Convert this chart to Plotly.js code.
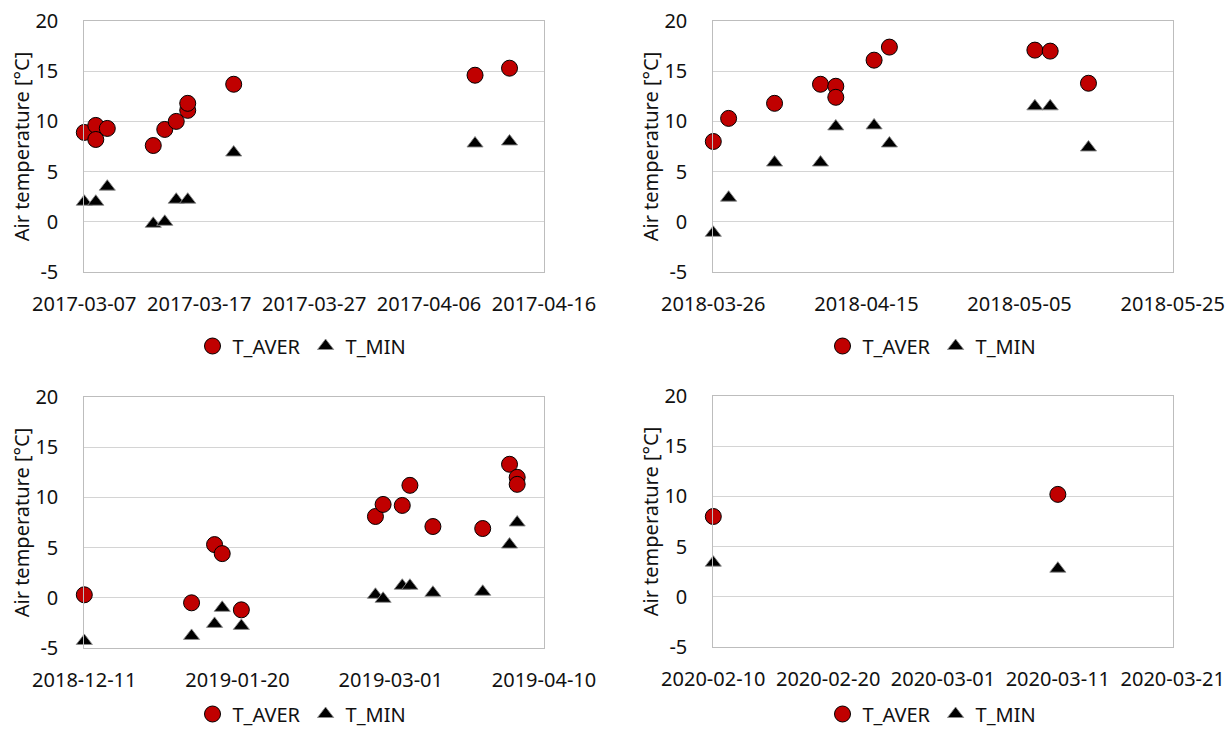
<!DOCTYPE html>
<html>
<head>
<meta charset="utf-8">
<script src="https://cdn.plot.ly/plotly-3.0.1.min.js"></script>
<style>html,body{margin:0;padding:0;background:#fff;}#chart{width:1227px;height:730px;}</style>
</head>
<body>
<div id="chart"></div>
<script>
// ---- Data ----
const seriesNames = ['T_AVER', 'T_MIN'];
const yTitle = 'Air temperature [°C]';
const yTickVals = [-5, 0, 5, 10, 15, 20];
const yTickText = ['-5', '0', '5', '10', '15', '20'];

// Panel 1 (2017)
const p1AverDates = ['2017-03-07','2017-03-08','2017-03-08','2017-03-09','2017-03-13','2017-03-14','2017-03-15','2017-03-16','2017-03-16','2017-03-20','2017-04-10','2017-04-13'];
const p1AverVals  = [8.9, 9.6, 8.2, 9.3, 7.6, 9.2, 10.0, 11.1, 11.8, 13.7, 14.6, 15.3];
const p1MinDates  = ['2017-03-07','2017-03-08','2017-03-09','2017-03-13','2017-03-14','2017-03-15','2017-03-16','2017-03-20','2017-04-10','2017-04-13'];
const p1MinVals   = [2.0, 2.0, 3.5, -0.2, 0.0, 2.2, 2.2, 6.9, 7.8, 8.0];

// Panel 2 (2018 spring)
const p2AverDates = ['2018-03-26','2018-03-28','2018-04-03','2018-04-09','2018-04-11','2018-04-11','2018-04-16','2018-04-18','2018-05-07','2018-05-09','2018-05-14'];
const p2AverVals  = [8.0, 10.3, 11.8, 13.7, 13.5, 12.4, 16.1, 17.4, 17.1, 17.0, 13.8];
const p2MinDates  = ['2018-03-26','2018-03-28','2018-04-03','2018-04-09','2018-04-11','2018-04-16','2018-04-18','2018-05-07','2018-05-09','2018-05-14'];
const p2MinVals   = [-1.1, 2.4, 5.9, 5.9, 9.5, 9.6, 7.8, 11.5, 11.5, 7.4];

// Panel 3 (2018-2019 winter)
const p3AverDates = ['2018-12-11','2019-01-08','2019-01-14','2019-01-16','2019-01-21','2019-02-25','2019-02-27','2019-03-04','2019-03-06','2019-03-12','2019-03-25','2019-04-01','2019-04-03','2019-04-03'];
const p3AverVals  = [0.3, -0.5, 5.3, 4.4, -1.2, 8.1, 9.3, 9.2, 11.2, 7.1, 6.9, 13.3, 12.0, 11.3];
const p3MinDates  = ['2018-12-11','2019-01-08','2019-01-14','2019-01-16','2019-01-21','2019-02-25','2019-02-27','2019-03-04','2019-03-06','2019-03-12','2019-03-25','2019-04-01','2019-04-03'];
const p3MinVals   = [-4.3, -3.8, -2.6, -1.0, -2.8, 0.3, -0.1, 1.2, 1.2, 0.5, 0.6, 5.3, 7.5];

// Panel 4 (2020)
const p4AverDates = ['2020-02-10','2020-03-11'];
const p4AverVals  = [8.0, 10.2];
const p4MinDates  = ['2020-02-10','2020-03-11'];
const p4MinVals   = [3.4, 2.8];

// Axis ranges and tick steps (days)
const xRanges = [['2017-03-07','2017-04-16'], ['2018-03-26','2018-05-25'], ['2018-12-11','2019-04-10'], ['2020-02-10','2020-03-21']];
const xStepDays = [10, 20, 40, 10];
const yRange = [-5, 20];

// ---- Build ----
const W = 1227, H = 730;
const FONT = 'Noto Sans, Open Sans, sans-serif';
const DAY = 86400000;
const panels = [
  {ad: p1AverDates, av: p1AverVals, md: p1MinDates, mv: p1MinVals},
  {ad: p2AverDates, av: p2AverVals, md: p2MinDates, mv: p2MinVals},
  {ad: p3AverDates, av: p3AverVals, md: p3MinDates, mv: p3MinVals},
  {ad: p4AverDates, av: p4AverVals, md: p4MinDates, mv: p4MinVals}
];
// pixel boxes [left, right, top, bottom]
const boxes = [[84.3, 544, 21, 272], [713.3, 1172.7, 21, 272], [84.3, 544, 397, 648], [713.3, 1172.7, 396, 647]];
const legendPos = [[302, 346], [932, 346], [302, 714], [932, 714]];

const traces = [];
const layout = {
  width: W, height: H,
  margin: {l: 0, r: 0, t: 0, b: 0, autoexpand: false},
  paper_bgcolor: '#fff', plot_bgcolor: '#fff',
  font: {family: FONT, size: 20, color: '#111'},
  hovermode: false
};

panels.forEach((p, i) => {
  const n = i + 1;
  const xa = n === 1 ? 'x' : 'x' + n;
  const ya = n === 1 ? 'y' : 'y' + n;
  const lg = n === 1 ? 'legend' : 'legend' + n;
  traces.push({
    type: 'scatter', mode: 'markers', name: seriesNames[0],
    x: p.ad, y: p.av, xaxis: xa, yaxis: ya, legend: lg, cliponaxis: false,
    marker: {symbol: 'circle', size: 16, color: '#c00000', line: {color: '#000', width: 1}}
  });
  traces.push({
    type: 'scatter', mode: 'markers', name: seriesNames[1],
    x: p.md, y: p.mv, xaxis: xa, yaxis: ya, legend: lg, cliponaxis: false,
    marker: {symbol: 'triangle-up', size: 14, color: '#000', line: {color: 'rgba(140,140,140,0.9)', width: 1}}
  });
  const b = boxes[i];
  layout['xaxis' + (n === 1 ? '' : n)] = {
    type: 'date', domain: [b[0] / W, b[1] / W], anchor: ya,
    range: xRanges[i], tick0: xRanges[i][0], dtick: xStepDays[i] * DAY,
    tickformat: '%Y-%m-%d', showgrid: false, zeroline: false,
    showline: true, mirror: true, linecolor: '#bdbdbd', linewidth: 1,
    ticks: '', ticklabelstandoff: 14,
    tickfont: {family: FONT, size: 20, color: '#111'}, automargin: false
  };
  layout['yaxis' + (n === 1 ? '' : n)] = {
    domain: [1 - b[3] / H, 1 - b[2] / H], anchor: xa,
    range: yRange, tickmode: 'array', tickvals: yTickVals, ticktext: yTickText,
    showgrid: true, gridcolor: '#d4d4d4', gridwidth: 1, zeroline: false,
    showline: true, mirror: true, linecolor: '#bdbdbd', linewidth: 1,
    ticks: '', ticklabelstandoff: 21,
    tickfont: {family: FONT, size: 20, color: '#111'}, automargin: false,
    title: {text: yTitle, font: {family: FONT, size: 20, color: '#111'}, standoff: 0}
  };
  const lp = legendPos[i];
  layout[lg] = {
    orientation: 'h', x: lp[0] / W, y: 1 - lp[1] / H,
    xanchor: 'center', yanchor: 'middle', xref: 'paper', yref: 'paper',
    font: {family: FONT, size: 20, color: '#111'}, bgcolor: 'rgba(0,0,0,0)',
    itemwidth: 30, tracegroupgap: 0, itemclick: false, itemdoubleclick: false
  };
});

Plotly.newPlot('chart', traces, layout, {staticPlot: true, displayModeBar: false});
</script>
</body>
</html>
